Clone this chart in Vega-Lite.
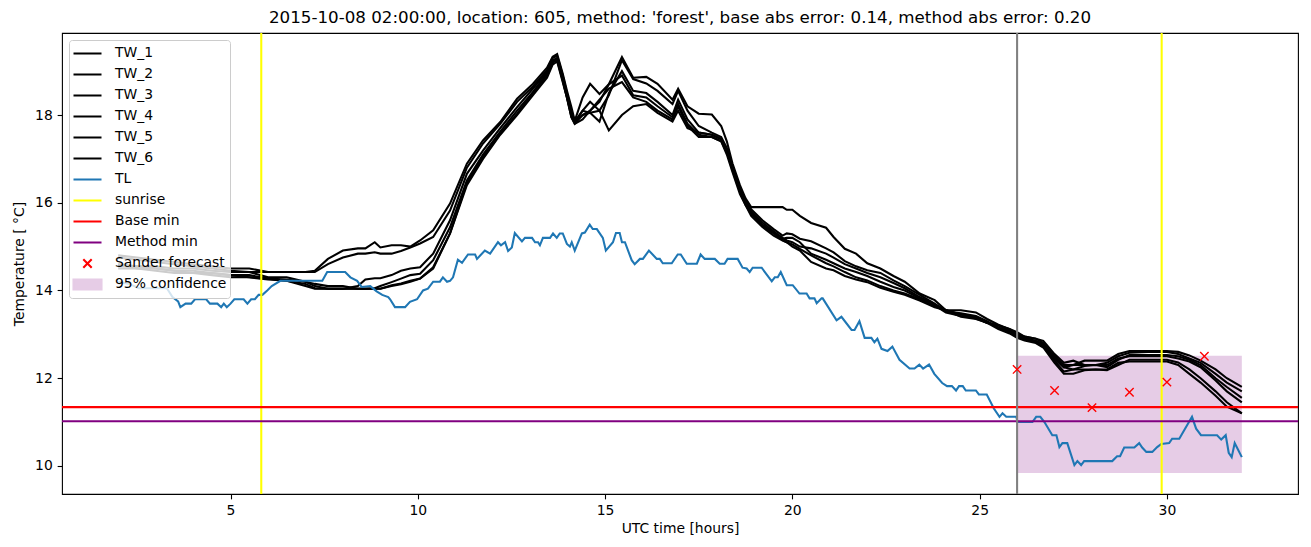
{
 "$schema": "https://vega.github.io/schema/vega-lite/v6.json",
 "width": 1236, "height": 461,
 "autosize": {"type": "none"},
 "padding": {"left": 62, "top": 33, "right": 13, "bottom": 53},
 "title": {"text": "2015-10-08 02:00:00, location: 605, method: 'forest', base abs error: 0.14, method abs error: 0.20", "fontSize": 16.7, "font": "DejaVu Sans", "fontWeight": "normal", "color": "black", "offset": 8, "baseline": "bottom", "anchor": "middle", "frame": "group", "dy": 20},
 "config": {
  "font": "DejaVu Sans",
  "view": {"stroke": "black", "strokeWidth": 1.1},
  "axis": {"domain": false, "grid": false, "tickColor": "black", "tickSize": 4.86, "tickWidth": 1.1, "labelFontSize": 13.9, "labelFont": "DejaVu Sans", "labelColor": "black", "labelPadding": 4.9, "titleFontSize": 13.9, "titleFont": "DejaVu Sans", "titleFontWeight": "normal", "titleColor": "black"}
 },
 "datasets": {
  "tw": [
   {"h":2.0,"TW_1":14.8,"TW_2":14.75,"TW_3":14.6,"TW_4":14.55,"TW_5":14.6,"TW_6":14.5},
   {"h":2.5,"TW_1":14.75,"TW_2":14.7,"TW_3":14.55,"TW_4":14.55,"TW_5":14.5,"TW_6":14.5},
   {"h":3.0,"TW_1":14.7,"TW_2":14.65,"TW_3":14.55,"TW_4":14.5,"TW_5":14.5,"TW_6":14.45},
   {"h":3.5,"TW_1":14.65,"TW_2":14.6,"TW_3":14.5,"TW_4":14.45,"TW_5":14.45,"TW_6":14.4},
   {"h":4.0,"TW_1":14.6,"TW_2":14.55,"TW_3":14.5,"TW_4":14.45,"TW_5":14.4,"TW_6":14.4},
   {"h":4.5,"TW_1":14.55,"TW_2":14.5,"TW_3":14.45,"TW_4":14.4,"TW_5":14.4,"TW_6":14.35},
   {"h":5.0,"TW_1":14.5,"TW_2":14.45,"TW_3":14.42,"TW_4":14.35,"TW_5":14.35,"TW_6":14.3},
   {"h":5.5,"TW_1":14.5,"TW_2":14.42,"TW_3":14.42,"TW_4":14.35,"TW_5":14.3,"TW_6":14.3},
   {"h":6.0,"TW_1":14.42,"TW_2":14.42,"TW_3":14.3,"TW_4":14.27,"TW_5":14.25,"TW_6":14.27},
   {"h":6.5,"TW_1":14.42,"TW_2":14.42,"TW_3":14.3,"TW_4":14.22,"TW_5":14.22,"TW_6":14.25},
   {"h":7.0,"TW_1":14.42,"TW_2":14.42,"TW_3":14.2,"TW_4":14.15,"TW_5":14.1,"TW_6":14.2},
   {"h":7.25,"TW_1":14.45,"TW_2":14.42,"TW_3":14.1,"TW_4":14.05,"TW_5":14.04,"TW_6":14.15},
   {"h":7.6,"TW_1":14.72,"TW_2":14.6,"TW_3":14.04,"TW_4":14.04,"TW_5":14.04,"TW_6":14.1},
   {"h":8.0,"TW_1":14.91,"TW_2":14.75,"TW_3":14.04,"TW_4":14.04,"TW_5":14.04,"TW_6":14.1},
   {"h":8.4,"TW_1":14.96,"TW_2":14.84,"TW_3":14.1,"TW_4":14.04,"TW_5":14.04,"TW_6":14.04},
   {"h":8.6,"TW_1":14.96,"TW_2":14.84,"TW_3":14.25,"TW_4":14.04,"TW_5":14.04,"TW_6":14.04},
   {"h":8.85,"TW_1":15.1,"TW_2":14.87,"TW_3":14.28,"TW_4":14.05,"TW_5":14.04,"TW_6":14.04},
   {"h":9.0,"TW_1":14.98,"TW_2":14.84,"TW_3":14.28,"TW_4":14.1,"TW_5":14.04,"TW_6":14.04},
   {"h":9.3,"TW_1":15.03,"TW_2":14.84,"TW_3":14.35,"TW_4":14.19,"TW_5":14.12,"TW_6":14.1},
   {"h":9.55,"TW_1":15.03,"TW_2":14.9,"TW_3":14.45,"TW_4":14.27,"TW_5":14.16,"TW_6":14.14},
   {"h":9.8,"TW_1":15.0,"TW_2":14.98,"TW_3":14.5,"TW_4":14.35,"TW_5":14.22,"TW_6":14.2},
   {"h":10.06,"TW_1":15.14,"TW_2":15.07,"TW_3":14.53,"TW_4":14.38,"TW_5":14.27,"TW_6":14.27},
   {"h":10.41,"TW_1":15.37,"TW_2":15.22,"TW_3":14.84,"TW_4":14.69,"TW_5":14.53,"TW_6":14.5},
   {"h":10.86,"TW_1":15.98,"TW_2":15.82,"TW_3":15.6,"TW_4":15.44,"TW_5":15.3,"TW_6":15.3},
   {"h":11.31,"TW_1":16.89,"TW_2":16.8,"TW_3":16.66,"TW_4":16.51,"TW_5":16.45,"TW_6":16.4},
   {"h":11.74,"TW_1":17.42,"TW_2":17.35,"TW_3":17.19,"TW_4":17.1,"TW_5":17.04,"TW_6":17.0},
   {"h":12.2,"TW_1":17.84,"TW_2":17.8,"TW_3":17.7,"TW_4":17.62,"TW_5":17.57,"TW_6":17.55},
   {"h":12.65,"TW_1":18.37,"TW_2":18.3,"TW_3":18.18,"TW_4":18.1,"TW_5":18.03,"TW_6":18.0},
   {"h":13.07,"TW_1":18.71,"TW_2":18.65,"TW_3":18.6,"TW_4":18.52,"TW_5":18.5,"TW_6":18.45},
   {"h":13.45,"TW_1":19.08,"TW_2":19.02,"TW_3":18.98,"TW_4":18.95,"TW_5":18.9,"TW_6":18.85},
   {"h":13.6,"TW_1":19.33,"TW_2":19.3,"TW_3":19.25,"TW_4":19.22,"TW_5":19.2,"TW_6":19.15},
   {"h":13.72,"TW_1":19.39,"TW_2":19.35,"TW_3":19.3,"TW_4":19.28,"TW_5":19.25,"TW_6":19.22},
   {"h":13.87,"TW_1":18.94,"TW_2":18.9,"TW_3":18.85,"TW_4":18.8,"TW_5":18.78,"TW_6":18.75},
   {"h":13.98,"TW_1":18.56,"TW_2":18.5,"TW_3":18.45,"TW_4":18.42,"TW_5":18.4,"TW_6":18.4},
   {"h":14.1,"TW_1":18.18,"TW_2":18.1,"TW_3":18.0,"TW_4":18.0,"TW_5":17.95,"TW_6":17.95},
   {"h":14.19,"TW_1":17.87,"TW_2":17.85,"TW_3":17.85,"TW_4":17.83,"TW_5":17.8,"TW_6":17.8},
   {"h":14.4,"TW_1":18.4,"TW_2":18.1,"TW_3":18.0,"TW_4":18.1,"TW_5":18.0,"TW_6":17.9},
   {"h":14.6,"TW_1":18.71,"TW_2":18.3,"TW_3":18.05,"TW_4":18.05,"TW_5":18.1,"TW_6":18.1},
   {"h":14.85,"TW_1":18.48,"TW_2":18.1,"TW_3":18.1,"TW_4":17.85,"TW_5":18.3,"TW_6":18.35},
   {"h":15.1,"TW_1":18.7,"TW_2":18.45,"TW_3":17.65,"TW_4":18.5,"TW_5":18.7,"TW_6":18.6},
   {"h":15.45,"TW_1":19.32,"TW_2":19.25,"TW_3":18.0,"TW_4":19.0,"TW_5":18.9,"TW_6":18.75},
   {"h":15.75,"TW_1":18.85,"TW_2":18.82,"TW_3":18.2,"TW_4":18.55,"TW_5":18.45,"TW_6":18.4},
   {"h":16.1,"TW_1":18.87,"TW_2":18.72,"TW_3":18.25,"TW_4":18.5,"TW_5":18.4,"TW_6":18.3},
   {"h":16.4,"TW_1":18.71,"TW_2":18.55,"TW_3":18.05,"TW_4":18.3,"TW_5":18.2,"TW_6":18.1},
   {"h":16.8,"TW_1":18.35,"TW_2":18.25,"TW_3":17.85,"TW_4":18.0,"TW_5":17.95,"TW_6":17.9},
   {"h":16.95,"TW_1":18.6,"TW_2":18.55,"TW_3":18.1,"TW_4":18.35,"TW_5":18.25,"TW_6":18.2},
   {"h":17.2,"TW_1":18.2,"TW_2":18.1,"TW_3":17.7,"TW_4":17.9,"TW_5":17.8,"TW_6":17.75},
   {"h":17.5,"TW_1":18.03,"TW_2":17.75,"TW_3":17.6,"TW_4":17.6,"TW_5":17.55,"TW_6":17.5},
   {"h":17.85,"TW_1":18.01,"TW_2":17.6,"TW_3":17.55,"TW_4":17.55,"TW_5":17.5,"TW_6":17.5},
   {"h":18.1,"TW_1":17.75,"TW_2":17.5,"TW_3":17.45,"TW_4":17.45,"TW_5":17.4,"TW_6":17.4},
   {"h":18.25,"TW_1":17.4,"TW_2":17.25,"TW_3":17.2,"TW_4":17.2,"TW_5":17.15,"TW_6":17.1},
   {"h":18.4,"TW_1":16.9,"TW_2":16.85,"TW_3":16.8,"TW_4":16.8,"TW_5":16.75,"TW_6":16.7},
   {"h":18.6,"TW_1":16.4,"TW_2":16.35,"TW_3":16.3,"TW_4":16.3,"TW_5":16.25,"TW_6":16.2},
   {"h":18.75,"TW_1":16.1,"TW_2":16.05,"TW_3":16.0,"TW_4":16.0,"TW_5":15.95,"TW_6":15.95},
   {"h":18.9,"TW_1":15.9,"TW_2":15.85,"TW_3":15.8,"TW_4":15.78,"TW_5":15.75,"TW_6":15.7},
   {"h":19.2,"TW_1":15.9,"TW_2":15.6,"TW_3":15.55,"TW_4":15.5,"TW_5":15.48,"TW_6":15.45},
   {"h":19.5,"TW_1":15.9,"TW_2":15.4,"TW_3":15.35,"TW_4":15.32,"TW_5":15.3,"TW_6":15.25},
   {"h":19.74,"TW_1":15.9,"TW_2":15.25,"TW_3":15.2,"TW_4":15.18,"TW_5":15.15,"TW_6":15.14},
   {"h":19.85,"TW_1":15.84,"TW_2":15.3,"TW_3":15.14,"TW_4":15.2,"TW_5":15.1,"TW_6":15.1},
   {"h":20.0,"TW_1":15.84,"TW_2":15.28,"TW_3":15.1,"TW_4":15.2,"TW_5":15.05,"TW_6":15.0},
   {"h":20.2,"TW_1":15.7,"TW_2":15.18,"TW_3":15.0,"TW_4":15.1,"TW_5":14.95,"TW_6":14.91},
   {"h":20.5,"TW_1":15.54,"TW_2":15.12,"TW_3":14.96,"TW_4":14.84,"TW_5":14.8,"TW_6":14.65},
   {"h":20.9,"TW_1":15.43,"TW_2":14.96,"TW_3":14.84,"TW_4":14.7,"TW_5":14.62,"TW_6":14.5},
   {"h":21.1,"TW_1":15.22,"TW_2":14.87,"TW_3":14.75,"TW_4":14.62,"TW_5":14.55,"TW_6":14.46},
   {"h":21.4,"TW_1":14.95,"TW_2":14.67,"TW_3":14.6,"TW_4":14.5,"TW_5":14.42,"TW_6":14.33},
   {"h":21.7,"TW_1":14.84,"TW_2":14.55,"TW_3":14.5,"TW_4":14.42,"TW_5":14.3,"TW_6":14.25},
   {"h":22.0,"TW_1":14.62,"TW_2":14.46,"TW_3":14.4,"TW_4":14.33,"TW_5":14.23,"TW_6":14.19},
   {"h":22.35,"TW_1":14.5,"TW_2":14.4,"TW_3":14.3,"TW_4":14.2,"TW_5":14.1,"TW_6":14.06},
   {"h":22.7,"TW_1":14.33,"TW_2":14.23,"TW_3":14.17,"TW_4":14.08,"TW_5":14.0,"TW_6":13.97},
   {"h":23.0,"TW_1":14.2,"TW_2":14.1,"TW_3":14.05,"TW_4":14.0,"TW_5":13.93,"TW_6":13.9},
   {"h":23.4,"TW_1":13.93,"TW_2":13.9,"TW_3":13.85,"TW_4":13.82,"TW_5":13.8,"TW_6":13.77},
   {"h":23.8,"TW_1":13.78,"TW_2":13.7,"TW_3":13.68,"TW_4":13.66,"TW_5":13.64,"TW_6":13.62},
   {"h":24.1,"TW_1":13.55,"TW_2":13.52,"TW_3":13.55,"TW_4":13.5,"TW_5":13.55,"TW_6":13.55},
   {"h":24.5,"TW_1":13.55,"TW_2":13.48,"TW_3":13.45,"TW_4":13.42,"TW_5":13.45,"TW_6":13.4},
   {"h":24.9,"TW_1":13.5,"TW_2":13.42,"TW_3":13.4,"TW_4":13.38,"TW_5":13.36,"TW_6":13.35},
   {"h":25.2,"TW_1":13.35,"TW_2":13.3,"TW_3":13.28,"TW_4":13.26,"TW_5":13.26,"TW_6":13.27},
   {"h":25.5,"TW_1":13.22,"TW_2":13.15,"TW_3":13.15,"TW_4":13.12,"TW_5":13.2,"TW_6":13.2},
   {"h":25.8,"TW_1":13.12,"TW_2":13.08,"TW_3":13.05,"TW_4":13.02,"TW_5":13.1,"TW_6":13.12},
   {"h":26.0,"TW_1":13.0,"TW_2":12.98,"TW_3":12.95,"TW_4":12.92,"TW_5":12.98,"TW_6":13.05},
   {"h":26.2,"TW_1":12.95,"TW_2":12.92,"TW_3":12.88,"TW_4":12.86,"TW_5":12.9,"TW_6":12.95},
   {"h":26.5,"TW_1":12.9,"TW_2":12.85,"TW_3":12.82,"TW_4":12.8,"TW_5":12.85,"TW_6":12.9},
   {"h":26.7,"TW_1":12.8,"TW_2":12.75,"TW_3":12.72,"TW_4":12.7,"TW_5":12.78,"TW_6":12.85},
   {"h":27.0,"TW_1":12.5,"TW_2":12.45,"TW_3":12.4,"TW_4":12.35,"TW_5":12.45,"TW_6":12.55},
   {"h":27.25,"TW_1":12.3,"TW_2":12.25,"TW_3":12.15,"TW_4":12.1,"TW_5":12.25,"TW_6":12.35},
   {"h":27.5,"TW_1":12.3,"TW_2":12.3,"TW_3":12.2,"TW_4":12.1,"TW_5":12.2,"TW_6":12.4},
   {"h":27.8,"TW_1":12.4,"TW_2":12.3,"TW_3":12.28,"TW_4":12.18,"TW_5":12.2,"TW_6":12.3},
   {"h":28.1,"TW_1":12.4,"TW_2":12.3,"TW_3":12.3,"TW_4":12.2,"TW_5":12.2,"TW_6":12.3},
   {"h":28.4,"TW_1":12.4,"TW_2":12.35,"TW_3":12.25,"TW_4":12.18,"TW_5":12.2,"TW_6":12.3},
   {"h":28.7,"TW_1":12.55,"TW_2":12.5,"TW_3":12.42,"TW_4":12.3,"TW_5":12.35,"TW_6":12.45},
   {"h":29.0,"TW_1":12.62,"TW_2":12.58,"TW_3":12.53,"TW_4":12.42,"TW_5":12.38,"TW_6":12.5},
   {"h":29.5,"TW_1":12.62,"TW_2":12.6,"TW_3":12.53,"TW_4":12.42,"TW_5":12.38,"TW_6":12.5},
   {"h":30.0,"TW_1":12.62,"TW_2":12.6,"TW_3":12.53,"TW_4":12.42,"TW_5":12.38,"TW_6":12.5},
   {"h":30.3,"TW_1":12.6,"TW_2":12.55,"TW_3":12.5,"TW_4":12.36,"TW_5":12.3,"TW_6":12.45},
   {"h":30.6,"TW_1":12.52,"TW_2":12.45,"TW_3":12.42,"TW_4":12.2,"TW_5":12.1,"TW_6":12.38},
   {"h":30.9,"TW_1":12.4,"TW_2":12.35,"TW_3":12.3,"TW_4":12.0,"TW_5":11.9,"TW_6":12.25},
   {"h":31.3,"TW_1":12.2,"TW_2":12.1,"TW_3":12.0,"TW_4":11.7,"TW_5":11.6,"TW_6":11.95},
   {"h":31.6,"TW_1":12.0,"TW_2":11.9,"TW_3":11.8,"TW_4":11.45,"TW_5":11.35,"TW_6":11.7},
   {"h":32.0,"TW_1":11.8,"TW_2":11.7,"TW_3":11.55,"TW_4":11.2,"TW_5":11.2,"TW_6":11.45}
  ],
  "tl": [
   {"h":2.0,"t":14.2},{"h":2.3,"t":14.15},{"h":2.55,"t":14.05},{"h":3.3,"t":14.05},{"h":3.45,"t":13.85},{"h":3.6,"t":13.75},{"h":3.66,"t":13.62},{"h":3.8,"t":13.7},{"h":3.95,"t":13.7},{"h":4.05,"t":13.8},{"h":4.35,"t":13.8},{"h":4.45,"t":13.7},{"h":4.65,"t":13.7},{"h":4.75,"t":13.62},{"h":4.82,"t":13.7},{"h":4.9,"t":13.62},{"h":5.0,"t":13.7},{"h":5.1,"t":13.8},{"h":5.35,"t":13.8},{"h":5.45,"t":13.7},{"h":5.55,"t":13.8},{"h":5.65,"t":13.8},{"h":5.75,"t":13.9},{"h":5.85,"t":13.9},{"h":5.98,"t":14.0},{"h":6.1,"t":14.1},{"h":6.33,"t":14.22},{"h":7.45,"t":14.22},{"h":7.58,"t":14.42},{"h":8.06,"t":14.42},{"h":8.2,"t":14.3},{"h":8.38,"t":14.22},{"h":8.5,"t":14.08},{"h":8.73,"t":14.1},{"h":8.9,"t":13.98},{"h":9.05,"t":13.9},{"h":9.21,"t":13.85},{"h":9.26,"t":13.8},{"h":9.39,"t":13.62},{"h":9.66,"t":13.62},{"h":9.79,"t":13.74},{"h":9.98,"t":13.8},{"h":10.14,"t":14.0},{"h":10.27,"t":14.04},{"h":10.41,"t":14.2},{"h":10.59,"t":14.2},{"h":10.67,"t":14.3},{"h":10.78,"t":14.2},{"h":10.86,"t":14.22},{"h":10.94,"t":14.3},{"h":11.07,"t":14.7},{"h":11.18,"t":14.63},{"h":11.34,"t":14.82},{"h":11.53,"t":14.82},{"h":11.58,"t":14.72},{"h":11.79,"t":14.91},{"h":11.93,"t":14.84},{"h":12.14,"t":15.1},{"h":12.22,"t":15.03},{"h":12.33,"t":15.1},{"h":12.41,"t":14.9},{"h":12.51,"t":14.98},{"h":12.59,"t":15.31},{"h":12.78,"t":15.12},{"h":12.86,"t":15.2},{"h":13.05,"t":15.2},{"h":13.13,"t":15.1},{"h":13.21,"t":15.1},{"h":13.26,"t":15.03},{"h":13.34,"t":15.2},{"h":13.53,"t":15.2},{"h":13.61,"t":15.3},{"h":13.71,"t":15.2},{"h":13.79,"t":15.3},{"h":13.87,"t":15.3},{"h":13.98,"t":15.06},{"h":14.06,"t":15.0},{"h":14.11,"t":15.1},{"h":14.19,"t":14.91},{"h":14.38,"t":15.3},{"h":14.46,"t":15.32},{"h":14.59,"t":15.5},{"h":14.67,"t":15.4},{"h":14.78,"t":15.4},{"h":14.94,"t":15.2},{"h":15.02,"t":14.91},{"h":15.21,"t":15.1},{"h":15.29,"t":15.31},{"h":15.39,"t":15.31},{"h":15.45,"t":15.1},{"h":15.53,"t":15.1},{"h":15.71,"t":14.69},{"h":15.79,"t":14.6},{"h":15.93,"t":14.72},{"h":16.01,"t":14.72},{"h":16.17,"t":14.91},{"h":16.38,"t":14.72},{"h":16.46,"t":14.72},{"h":16.54,"t":14.62},{"h":16.78,"t":14.62},{"h":16.94,"t":14.82},{"h":17.02,"t":14.82},{"h":17.18,"t":14.61},{"h":17.45,"t":14.61},{"h":17.55,"t":14.82},{"h":17.66,"t":14.72},{"h":17.93,"t":14.72},{"h":18.06,"t":14.61},{"h":18.19,"t":14.61},{"h":18.27,"t":14.72},{"h":18.54,"t":14.72},{"h":18.67,"t":14.52},{"h":18.78,"t":14.5},{"h":18.86,"t":14.42},{"h":18.94,"t":14.52},{"h":19.18,"t":14.52},{"h":19.45,"t":14.21},{"h":19.53,"t":14.3},{"h":19.61,"t":14.3},{"h":19.69,"t":14.42},{"h":19.85,"t":14.12},{"h":20.01,"t":14.12},{"h":20.19,"t":13.93},{"h":20.38,"t":13.93},{"h":20.46,"t":13.82},{"h":20.59,"t":13.82},{"h":20.65,"t":13.71},{"h":20.78,"t":13.82},{"h":20.81,"t":13.82},{"h":21.18,"t":13.32},{"h":21.31,"t":13.4},{"h":21.58,"t":13.1},{"h":21.66,"t":13.1},{"h":21.79,"t":13.3},{"h":21.93,"t":12.92},{"h":22.11,"t":12.92},{"h":22.19,"t":12.82},{"h":22.27,"t":12.9},{"h":22.38,"t":12.67},{"h":22.54,"t":12.62},{"h":22.67,"t":12.72},{"h":22.86,"t":12.42},{"h":23.13,"t":12.22},{"h":23.26,"t":12.22},{"h":23.39,"t":12.31},{"h":23.49,"t":12.22},{"h":23.65,"t":12.31},{"h":23.79,"t":12.1},{"h":24.0,"t":11.89},{"h":24.13,"t":11.82},{"h":24.26,"t":11.82},{"h":24.37,"t":11.72},{"h":24.45,"t":11.82},{"h":24.55,"t":11.82},{"h":24.63,"t":11.72},{"h":24.9,"t":11.72},{"h":24.98,"t":11.63},{"h":25.19,"t":11.63},{"h":25.38,"t":11.31},{"h":25.53,"t":11.12},{"h":25.61,"t":11.2},{"h":25.71,"t":11.12},{"h":25.98,"t":11.12},{"h":26.01,"t":11.0},{"h":26.41,"t":11.0},{"h":26.51,"t":11.12},{"h":26.62,"t":11.12},{"h":26.73,"t":11.0},{"h":26.94,"t":10.7},{"h":27.05,"t":10.7},{"h":27.13,"t":10.43},{"h":27.21,"t":10.52},{"h":27.34,"t":10.52},{"h":27.53,"t":10.02},{"h":27.61,"t":10.11},{"h":27.71,"t":10.02},{"h":27.79,"t":10.11},{"h":28.54,"t":10.11},{"h":28.67,"t":10.22},{"h":28.75,"t":10.22},{"h":28.86,"t":10.42},{"h":29.13,"t":10.42},{"h":29.26,"t":10.52},{"h":29.34,"t":10.42},{"h":29.45,"t":10.32},{"h":29.61,"t":10.32},{"h":29.74,"t":10.43},{"h":29.85,"t":10.5},{"h":30.06,"t":10.52},{"h":30.14,"t":10.62},{"h":30.33,"t":10.62},{"h":30.67,"t":11.12},{"h":30.78,"t":10.85},{"h":30.91,"t":10.7},{"h":31.34,"t":10.7},{"h":31.45,"t":10.6},{"h":31.57,"t":10.7},{"h":31.65,"t":10.3},{"h":31.73,"t":10.2},{"h":31.81,"t":10.52},{"h":31.87,"t":10.42},{"h":32.0,"t":10.2}
  ],
  "fc": [
   {"h":26,"t":12.2,"s":"Sander forecast"},{"h":27,"t":11.72,"s":"Sander forecast"},{"h":28,"t":11.33,"s":"Sander forecast"},{"h":29,"t":11.68,"s":"Sander forecast"},{"h":30,"t":11.91,"s":"Sander forecast"},{"h":31,"t":12.5,"s":"Sander forecast"}
  ]
 },
 "layer": [
  {
   "data": {"values": [{"h":26,"h2":32,"t":9.84,"t2":12.51,"s":"95% confidence"}]},
   "mark": {"type": "rect", "opacity": 1},
   "encoding": {
    "x": {"field": "h", "type": "quantitative", "scale": {"domain": [0.5, 33.5], "nice": false, "zero": false}, "axis": {"values": [5,10,15,20,25,30], "title": "UTC time [hours]", "titlePadding": 4, "labelFlush": false}},
    "x2": {"field": "h2"},
    "y": {"field": "t", "type": "quantitative", "scale": {"domain": [9.36, 19.87], "nice": false, "zero": false}, "axis": {"values": [10,12,14,16,18], "title": "Temperature [ °C]", "titlePadding": 8}},
    "y2": {"field": "t2"},
    "color": {"field": "s", "type": "nominal",
     "scale": {"domain": ["TW_1","TW_2","TW_3","TW_4","TW_5","TW_6","TL","sunrise","Base min","Method min","Sander forecast","95% confidence"],
               "range": ["#000000","#000000","#000000","#000000","#000000","#000000","#1f77b4","#ffff00","#ff0000","#800080","#ff0000","#e6cce6"]},
     "legend": {"title": null, "orient": "top-left", "offset": 7, "padding": 3, "fillColor": "rgba(255,255,255,0.8)", "strokeColor": "#cccccc", "cornerRadius": 3,
       "labelFont": "DejaVu Sans", "labelFontSize": 13.9, "labelColor": "black", "labelOffset": 12, "symbolSize": 784, "symbolStrokeWidth": 2.08, "symbolOpacity": 1, "clipHeight": 20.9, "rowPadding": 0}
    }
   }
  },
  {
   "data": {"name": "tw"},
   "transform": [{"fold": ["TW_1","TW_2","TW_3","TW_4","TW_5","TW_6"], "as": ["s", "t"]}],
   "mark": {"type": "line", "strokeWidth": 2.08},
   "encoding": {
    "x": {"field": "h", "type": "quantitative"},
    "y": {"field": "t", "type": "quantitative"},
    "color": {"field": "s", "type": "nominal"}
   }
  },
  {
   "data": {"name": "tl"},
   "mark": {"type": "line", "strokeWidth": 2.08},
   "encoding": {
    "x": {"field": "h", "type": "quantitative"},
    "y": {"field": "t", "type": "quantitative"},
    "color": {"datum": "TL"}
   }
  },
  {
   "data": {"values": [{"h":5.82,"s":"sunrise"},{"h":29.86,"s":"sunrise"}]},
   "mark": {"type": "rule", "strokeWidth": 2.08},
   "encoding": {"x": {"field": "h", "type": "quantitative"}, "color": {"field": "s", "type": "nominal"}}
  },
  {
   "data": {"values": [{"t":11.34,"s":"Base min"},{"t":11.02,"s":"Method min"}]},
   "mark": {"type": "rule", "strokeWidth": 2.08},
   "encoding": {"y": {"field": "t", "type": "quantitative"}, "color": {"field": "s", "type": "nominal"}}
  },
  {
   "data": {"values": [{"h":26}]},
   "mark": {"type": "rule", "strokeWidth": 2.08, "color": "#808080"},
   "encoding": {"x": {"field": "h", "type": "quantitative"}}
  },
  {
   "data": {"name": "fc"},
   "mark": {"type": "point", "filled": false, "size": 784, "strokeWidth": 1.4, "opacity": 1},
   "encoding": {
    "x": {"field": "h", "type": "quantitative"},
    "y": {"field": "t", "type": "quantitative"},
    "color": {"field": "s", "type": "nominal"},
    "shape": {"field": "s", "type": "nominal",
     "scale": {"domain": ["TW_1","TW_2","TW_3","TW_4","TW_5","TW_6","TL","sunrise","Base min","Method min","Sander forecast","95% confidence"],
               "range": ["stroke","stroke","stroke","stroke","stroke","stroke","stroke","stroke","stroke","stroke","M-0.3,-0.3L0.3,0.3M-0.3,0.3L0.3,-0.3","M-1,-0.35L1,-0.35L1,0.35L-1,0.35Z"]}}
   }
  }
 ]
}
